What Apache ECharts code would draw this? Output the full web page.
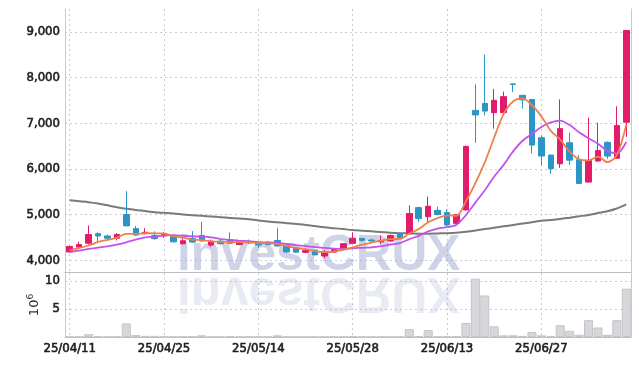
<!DOCTYPE html>
<html>
<head>
<meta charset="utf-8">
<script src="https://cdn.jsdelivr.net/npm/echarts@6/dist/echarts.min.js"></script>
<style>
html,body{margin:0;padding:0;background:#fff;}
#chart{width:639px;height:366px;}
</style>
</head>
<body>
<div id="chart"></div>
<script>
const dates = ['25/04/11','25/04/14','25/04/15','25/04/16','25/04/17','25/04/18','25/04/21','25/04/22','25/04/23','25/04/24',
'25/04/25','25/04/28','25/04/29','25/04/30','25/05/02','25/05/07','25/05/08','25/05/09','25/05/12','25/05/13',
'25/05/14','25/05/15','25/05/16','25/05/19','25/05/20','25/05/21','25/05/22','25/05/23','25/05/26','25/05/27',
'25/05/28','25/05/29','25/05/30','25/06/02','25/06/04','25/06/05','25/06/09','25/06/10','25/06/11','25/06/12',
'25/06/13','25/06/16','25/06/17','25/06/18','25/06/19','25/06/20','25/06/23','25/06/24','25/06/25','25/06/26',
'25/06/27','25/06/30','25/07/01','25/07/02','25/07/03','25/07/04','25/07/07','25/07/08','25/07/09','25/07/10'];

const opens  = [4180,4285,4370,4580,4530,4480,5000,4690,4590,4540, 4530,4530,4360,4475,4540,4330,4415,4450,4340,4400,
                4380,4390,4430,4320,4260,4170,4220,4090,4175,4235, 4370,4475,4440,4400,4420,4580,4580,5150,4950,5090,
                5040,4805,5100,7280,7430,7230,7230,7860,7610,7520, 6680,6300,6110,6570,6200,5710,6170,6580,6230,7020];
const closes = [4300,4340,4560,4530,4480,4560,4750,4550,4610,4470, 4560,4400,4425,4395,4420,4415,4360,4370,4410,4380,
                4330,4340,4310,4180,4175,4210,4115,4175,4235,4360, 4480,4435,4420,4430,4540,4500,5020,4910,5180,5000,
                4770,4995,6490,7180,7265,7500,7580,7845,7510,6520, 6280,6000,6880,6190,5680,6180,6400,6280,6950,9030];
const lows   = [4170,4280,4340,4370,4460,4430,4745,4530,4560,4450, 4490,4390,4340,4380,4400,4290,4340,4350,4330,4350,
                4270,4330,4300,4160,4160,4150,4110,4040,4160,4230, 4360,4400,4400,4345,4400,4480,4570,4840,4830,4980,
                4745,4770,5090,6570,7170,6880,7220,7680,7320,6340, 6070,5890,6020,6090,5680,5700,6160,6220,6220,6700];
const highs  = [4310,4400,4760,4610,4560,4590,5510,4750,4700,4630, 4610,4560,4470,4635,4840,4450,4440,4610,4430,4450,
                4400,4420,4710,4340,4280,4260,4230,4220,4250,4370, 4610,4490,4470,4540,4560,4600,5200,5170,5390,5170,
                5110,5000,6510,7850,8500,7750,7690,7870,7620,7520, 6730,6310,7520,6790,6300,7120,7010,6600,7370,9030];
const volumes = [0.05,0.05,0.5,0.15,0.05,0.1,2.4,0.35,0.2,0.2, 0.05,0.05,0.05,0.1,0.3,0.05,0.05,0.15,0.05,0.05,
                 0.05,0.05,0.3,0.05,0.05,0.05,0.05,0.05,0.05,0.05, 0.2,0.05,0.05,0.05,0.05,0.05,1.4,0.15,1.25,0.1,
                 0.1,0.1,2.5,10.4,7.4,1.9,0.3,0.3,0.2,0.9, 0.3,0.2,2.1,1.1,0.4,3.0,1.7,0.4,3.0,8.6];
const ma5 = [4220,4265,4320,4400,4442,4494,4576,4574,4590,4588, 4588,4518,4493,4450,4440,4411,4403,4392,4395,4391,
             4374,4370,4358,4312,4267,4243,4199,4175,4186,4223, 4277,4340,4386,4425,4461,4465,4582,4680,4830,4922,
             4976,4971,5287,5687,6140,6686,7203,7475,7541,7392, 7148,6832,6638,6374,6206,6186,6266,6146,6298,6968];
const ma10 = [4175,4210,4245,4275,4300,4340,4390,4450,4500,4515, 4541,4547,4534,4520,4514,4500,4461,4443,4423,4416,
              4393,4387,4375,4354,4329,4309,4285,4267,4249,4245, 4260,4270,4281,4306,4342,4371,4461,4533,4628,4692,
              4721,4777,4984,5259,5531,5831,6087,6381,6614,6766, 6917,7018,7057,6958,6799,6667,6549,6392,6336,6587];
const maLong = [5310,5290,5270,5240,5200,5160,5125,5100,5075,5050, 5035,5020,5000,4985,4970,4955,4940,4925,4910,4895,
                4870,4845,4830,4810,4790,4770,4745,4720,4700,4680, 4660,4645,4630,4615,4600,4590,4585,4580,4580,4585,
                4590,4600,4620,4650,4680,4710,4740,4770,4800,4830, 4860,4880,4900,4930,4960,4990,5030,5070,5130,5220];
const priceTicks = [4000,5000,6000,7000,8000,9000];
const volumeTicks = [5,10];

const kData = dates.map((d,i)=>[opens[i],closes[i],lows[i],highs[i]]);
const labelFont = "'DejaVu Sans Condensed','DejaVu Sans',sans-serif";
const labelStyle = {color:'#1e1e1e', fontSize:13, fontFamily:labelFont, textBorderColor:'#1e1e1e', textBorderWidth:0.6};
const gridLine = {show:true,lineStyle:{color:'#c9cbd8',type:[2,3],width:1}};
const upColor = '#e31b6b', downColor = '#2b95c7';

const chart = echarts.init(document.getElementById('chart'), null, {renderer:'canvas'});
chart.setOption({
  animation:false,
  backgroundColor:'#ffffff',
  graphic:[
    {type:'text', x:177, y:281.5, z:1, silent:true,
     style:{text:'investCRUX', font:"bold 49.5px 'Liberation Sans',sans-serif", fill:'rgba(158,168,210,0.5)', verticalAlign:'bottom'}},
    {type:'text', x:177, y:266.5, scaleY:-1, z:1, silent:true,
     style:{text:'investCRUX', font:"bold 49.5px 'Liberation Sans',sans-serif", fill:'rgba(158,168,210,0.24)', verticalAlign:'bottom'}}
  ],
  grid:[
    {left:65, right:8, top:9, height:263},
    {left:65, right:8, top:273, height:64}
  ],
  xAxis:[
    {type:'category', gridIndex:0, data:dates, boundaryGap:true,
     axisLine:{show:true,lineStyle:{color:'#bdbdc4'}}, axisTick:{show:false}, axisLabel:{show:false},
     splitLine:{show:true, interval:9, alignWithLabel:true, lineStyle:{color:'#c9cbd8',type:[2,3]}}},
    {type:'category', gridIndex:1, data:dates, boundaryGap:true,
     axisLine:{show:true,lineStyle:{color:'#bdbdc4'}}, axisTick:{show:false},
     axisLabel:Object.assign({show:true, interval:9, margin:5}, labelStyle),
     splitLine:{show:true, interval:9, alignWithLabel:true, lineStyle:{color:'#c9cbd8',type:[2,3]}}}
  ],
  yAxis:[
    {type:'value', gridIndex:0, min:3740, max:9500, scale:true,
     axisLine:{show:true,lineStyle:{color:'#c8c8d0'}},
     axisTick:{show:false, customValues:priceTicks},
     axisLabel:Object.assign({customValues:priceTicks, margin:5, formatter:v=>v.toLocaleString('en-US')}, labelStyle),
     splitLine:gridLine},
    {type:'value', gridIndex:0, position:'right', min:3740, max:9500,
     axisLine:{show:true,lineStyle:{color:'#c8c8d0'}}, axisTick:{show:false}, axisLabel:{show:false}, splitLine:{show:false}},
    {type:'value', gridIndex:1, min:0, max:11.4,
     name:'{a|10}{b|6}', nameLocation:'middle', nameRotate:90, nameGap:22, nameMoveOverlap:false,
     nameTextStyle:{rich:{a:{fontSize:13,color:'#333',fontFamily:'DejaVu Sans'},b:{fontSize:9,color:'#333',fontFamily:'DejaVu Sans',verticalAlign:'top',padding:[0,0,8,0]}}},
     axisLine:{show:true,lineStyle:{color:'#c8c8d0'}},
     axisTick:{show:false, customValues:volumeTicks},
     axisLabel:Object.assign({customValues:volumeTicks, margin:5}, labelStyle),
     splitLine:gridLine},
    {type:'value', gridIndex:1, position:'right', min:0, max:11.4,
     axisLine:{show:true,lineStyle:{color:'#c8c8d0'}}, axisTick:{show:false}, axisLabel:{show:false}, splitLine:{show:false}}
  ],
  series:[
    {type:'bar', name:'Volume', xAxisIndex:1, yAxisIndex:2, data:volumes, barCategoryGap:'4%',
     itemStyle:{color:'#d7d7db', borderColor:'#c4c4c9', borderWidth:1}, z:3},
    {type:'line', name:'MA120', xAxisIndex:0, yAxisIndex:0, data:maLong, smooth:0.3, symbol:'none',
     lineStyle:{color:'#7a7a7a', width:2}, z:3},
    {type:'candlestick', name:'Price', xAxisIndex:0, yAxisIndex:0, data:kData, barWidth:6,
     itemStyle:{color:upColor, color0:downColor, borderColor:upColor, borderColor0:downColor, borderWidth:1}, z:4},
    {type:'line', name:'MA10', xAxisIndex:0, yAxisIndex:0, data:ma10, smooth:0.3, symbol:'none',
     lineStyle:{color:'#c452ec', width:1.8}, z:5},
    {type:'line', name:'MA5', xAxisIndex:0, yAxisIndex:0, data:ma5, smooth:0.3, symbol:'none',
     lineStyle:{color:'#ef8148', width:1.8}, z:6}
  ]
});
</script>
</body>
</html>
